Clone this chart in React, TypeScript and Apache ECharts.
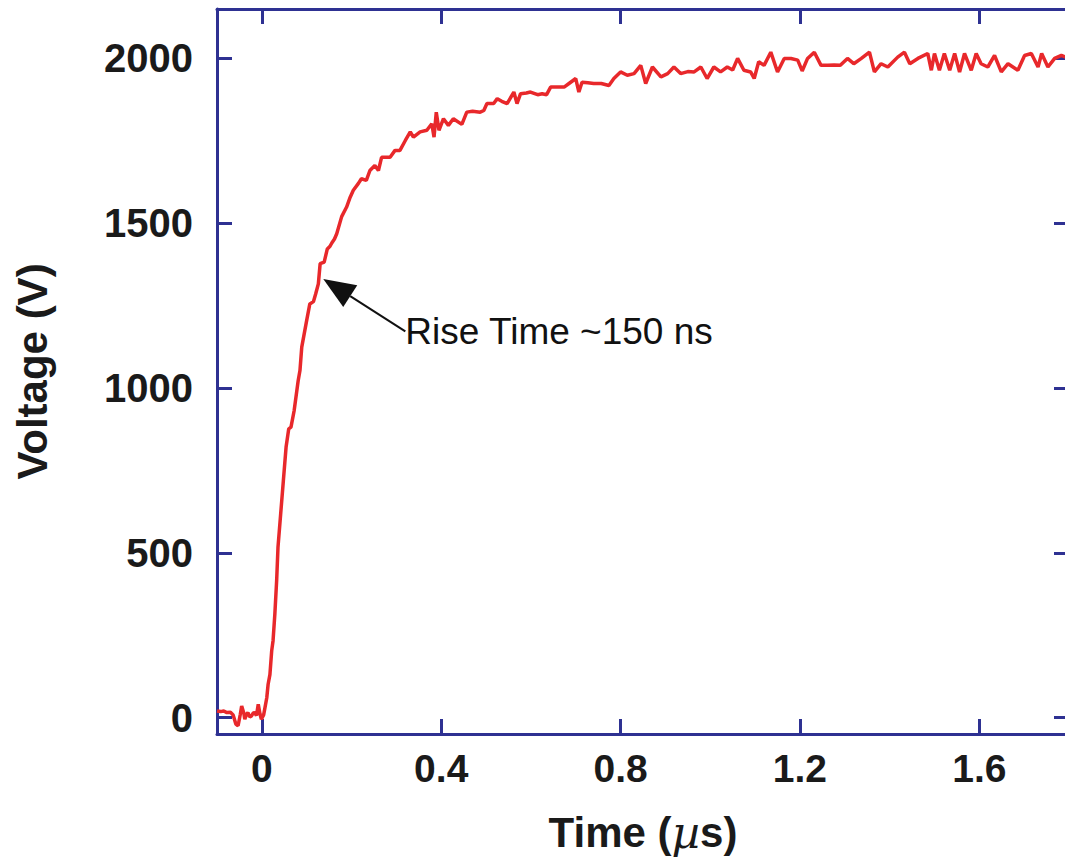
import React, { useEffect, useRef } from "react";
import * as echarts from "echarts";

// Time (µs)
const T: number[] = [
  -0.1, -0.092, -0.085, -0.078, -0.07, -0.064, -0.058, -0.053, -0.048, -0.045,
  -0.04, -0.038, -0.034, -0.031, -0.027, -0.023, -0.019, -0.016, -0.012, -0.008,
  -0.004, -0.001, 0.004, 0.007, 0.011, 0.014, 0.018, 0.022, 0.025, 0.029,
  0.033, 0.036, 0.042, 0.048, 0.054, 0.06, 0.065, 0.072, 0.081, 0.085,
  0.089, 0.1, 0.107, 0.115, 0.12, 0.126, 0.13, 0.139, 0.146, 0.152,
  0.156, 0.162, 0.167, 0.178, 0.189, 0.197, 0.204, 0.215, 0.222, 0.233,
  0.241, 0.252, 0.26, 0.267, 0.286, 0.297, 0.308, 0.32, 0.331, 0.338,
  0.353, 0.368, 0.379, 0.384, 0.389, 0.395, 0.405, 0.416, 0.427, 0.446,
  0.457, 0.47, 0.487, 0.495, 0.502, 0.517, 0.525, 0.535, 0.547, 0.562,
  0.569, 0.577, 0.59, 0.599, 0.615, 0.625, 0.635, 0.644, 0.66, 0.674,
  0.685, 0.7, 0.707, 0.714, 0.727, 0.74, 0.757, 0.774, 0.785, 0.8,
  0.815, 0.83, 0.845, 0.856, 0.871, 0.89, 0.905, 0.919, 0.934, 0.95,
  0.964, 0.979, 0.993, 1.008, 1.023, 1.038, 1.05, 1.061, 1.075, 1.09,
  1.098, 1.108, 1.12, 1.135, 1.15, 1.165, 1.18, 1.195, 1.205, 1.217,
  1.232, 1.247, 1.262, 1.276, 1.29, 1.306, 1.32, 1.337, 1.355, 1.366,
  1.381, 1.396, 1.418, 1.433, 1.445, 1.463, 1.485, 1.493, 1.5, 1.511,
  1.522, 1.534, 1.545, 1.556, 1.567, 1.582, 1.593, 1.604, 1.619, 1.634,
  1.649, 1.664, 1.686, 1.701, 1.716, 1.731, 1.739, 1.753, 1.768, 1.783,
  1.8,
];

// Voltage (V)
const V: number[] = [
  20, 18, 20, 15, 16, 8, -20, -25, 10, 35,
  12, -5, 10, 15, 2, 5, 14, 15, 6, 40,
  10, -5, 8, 30, 60, 101, 130, 203, 233, 314,
  415, 516, 618, 719, 820, 876, 881, 931, 1022, 1053,
  1124, 1205, 1255, 1262, 1285, 1316, 1377, 1382, 1422, 1430,
  1440, 1452, 1468, 1520, 1549, 1579, 1600, 1620, 1635, 1630,
  1660, 1675, 1660, 1700, 1700, 1721, 1721, 1751, 1777, 1761,
  1777, 1782, 1802, 1761, 1837, 1782, 1817, 1797, 1817, 1800,
  1837, 1840, 1837, 1842, 1863, 1863, 1878, 1870, 1863, 1898,
  1863, 1893, 1895, 1898, 1890, 1893, 1890, 1913, 1913, 1913,
  1924, 1939, 1898, 1928, 1926, 1924, 1924, 1918, 1939, 1959,
  1949, 1954, 1979, 1924, 1974, 1944, 1954, 1974, 1954, 1960,
  1959, 1974, 1939, 1974, 1959, 1974, 1965, 2000, 1964, 1959,
  1939, 1990, 1979, 2019, 1959, 2000, 2000, 1995, 1962, 2000,
  2019, 1979, 1979, 1980, 1979, 2000, 1984, 2000, 2019, 1959,
  1984, 1974, 2004, 2019, 1984, 2000, 2015, 1964, 2015, 1964,
  2015, 1964, 2015, 1959, 2015, 1964, 2015, 1984, 1974, 2009,
  1959, 1984, 1964, 2009, 2015, 1974, 2015, 1974, 2000, 2009,
  2000,
];

const X_TICKS: number[] = [0, 0.4, 0.8, 1.2, 1.6];
const Y_TICKS: number[] = [0, 500, 1000, 1500, 2000];

const ANNOTATION_TEXT = "Rise Time ~150 ns";
const ARROW_TIP: [number, number] = [0.137, 1331];
const ARROW_TAIL: [number, number] = [0.32, 1172];

const AXIS_COLOR = "#2e3192";
const LINE_COLOR = "#e8282b";
const FONT = "'Liberation Sans', Arial, Helvetica, sans-serif";

export default function App() {
  const ref = useRef<HTMLDivElement>(null);

  useEffect(() => {
    if (!ref.current) return;
    const chart = echarts.init(ref.current, undefined, { renderer: "svg" });

    const axisLine = { show: true, onZero: false, lineStyle: { color: AXIS_COLOR, width: 3 } };
    const tick = (vals: number[]) => ({
      show: true,
      inside: true,
      length: 15,
      customValues: vals,
      lineStyle: { color: AXIS_COLOR, width: 3 },
    });
    const labelStyle = {
      fontFamily: FONT,
      fontWeight: "bold" as const,
      fontSize: 39,
      color: "#1a1a1a",
    };

    chart.setOption({
      animation: false,
      backgroundColor: "#ffffff",
      grid: { left: 217, top: 9, width: 852, height: 725, containLabel: false },
      xAxis: [
        {
          type: "value",
          position: "bottom",
          min: -0.1,
          max: 1.8,
          axisLine,
          axisTick: tick(X_TICKS),
          axisLabel: {
            ...labelStyle,
            margin: 15,
            customValues: X_TICKS,
            formatter: (v: number) => (v === 0 ? "0" : v.toFixed(1)),
          },
          splitLine: { show: false },
          name: "{b|Time (}{m|\u00b5}{b|s)}",
          nameLocation: "middle",
          nameGap: 76,
          nameTextStyle: {
            rich: {
              b: { fontFamily: FONT, fontWeight: "bold", fontSize: 42, color: "#1a1a1a" },
              m: { fontFamily: "'DejaVu Serif', serif", fontStyle: "italic", fontWeight: "normal", fontSize: 44, color: "#1a1a1a" },
            },
          },
        },
        {
          type: "value",
          position: "top",
          min: -0.1,
          max: 1.8,
          axisLine,
          axisTick: tick(X_TICKS),
          axisLabel: { show: false },
          splitLine: { show: false },
        },
      ],
      yAxis: [
        {
          type: "value",
          position: "left",
          min: -50,
          max: 2150,
          axisLine,
          axisTick: tick(Y_TICKS),
          axisLabel: {
            ...labelStyle,
            fontSize: 40,
            margin: 24,
            customValues: Y_TICKS,
            formatter: (v: number) => String(v),
          },
          splitLine: { show: false },
          name: "Voltage (V)",
          nameLocation: "middle",
          nameGap: 164,
          nameTextStyle: { fontFamily: FONT, fontWeight: "bold", fontSize: 42, color: "#1a1a1a" },
        },
        {
          type: "value",
          position: "right",
          min: -50,
          max: 2150,
          axisLine: { show: false, onZero: false },
          axisTick: tick(Y_TICKS),
          axisLabel: { show: false },
          splitLine: { show: false },
        },
      ],
      series: [
        {
          type: "line",
          xAxisIndex: 0,
          yAxisIndex: 0,
          data: T.map((t, i) => [t, V[i]]),
          showSymbol: false,
          symbol: "none",
          lineStyle: { color: LINE_COLOR, width: 3.5 },
          silent: true,
        },
      ],
    });

    const tip = chart.convertToPixel({ xAxisIndex: 0, yAxisIndex: 0 }, ARROW_TIP) as number[];
    const tail = chart.convertToPixel({ xAxisIndex: 0, yAxisIndex: 0 }, ARROW_TAIL) as number[];
    const dx = tip[0] - tail[0];
    const dy = tip[1] - tail[1];
    const len = Math.sqrt(dx * dx + dy * dy);
    const ux = dx / len;
    const uy = dy / len;
    const headLen = 32;
    const halfW = 13;
    const bx = tip[0] - ux * headLen;
    const by = tip[1] - uy * headLen;
    const px = -uy;
    const py = ux;

    chart.setOption({
      graphic: [
        {
          type: "line",
          shape: { x1: tail[0], y1: tail[1], x2: bx, y2: by },
          style: { stroke: "#111", lineWidth: 2 },
          silent: true,
        },
        {
          type: "polygon",
          shape: {
            points: [
              [tip[0], tip[1]],
              [bx + px * halfW, by + py * halfW],
              [bx - px * halfW, by - py * halfW],
            ],
          },
          style: { fill: "#111" },
          silent: true,
        },
        {
          type: "text",
          x: tail[0],
          y: tail[1],
          style: {
            text: ANNOTATION_TEXT,
            font: `normal 37px ${FONT}`,
            fill: "#111",
            textAlign: "left",
            textVerticalAlign: "middle",
          },
          silent: true,
        },
      ],
    });

    return () => chart.dispose();
  }, []);

  return (
    <div style={{ position: "fixed", left: 0, top: 0, width: 1065, height: 865, overflow: "hidden", background: "#fff" }}>
      <div ref={ref} style={{ position: "absolute", left: 0, top: 0, width: 1100, height: 865 }} />
    </div>
  );
}
